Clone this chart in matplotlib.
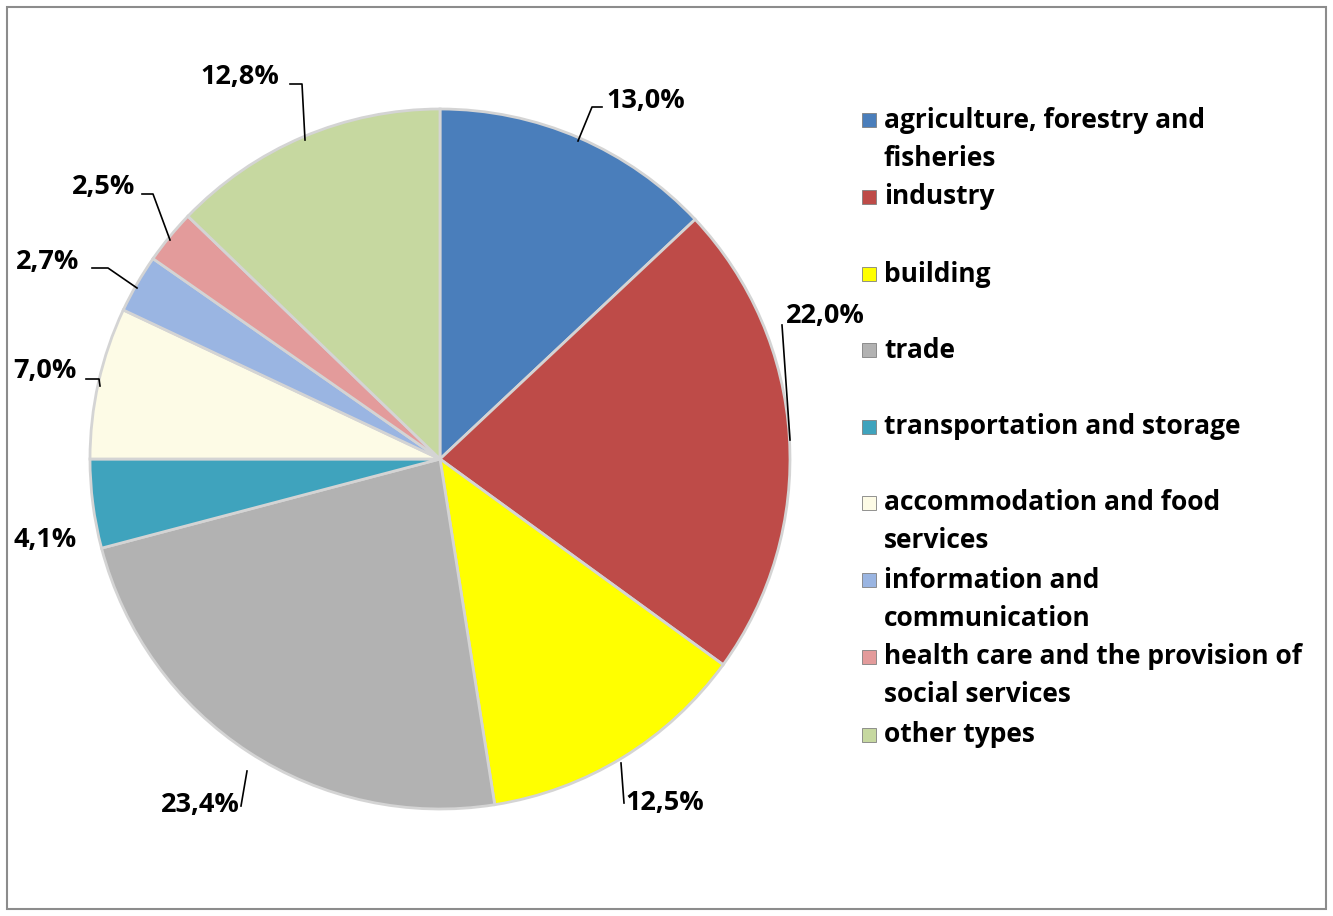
import matplotlib.pyplot as plt
from matplotlib.patches import Rectangle

plt.rcParams['font.family'] = ['Open Sans', 'DejaVu Sans']

# sectors, clockwise from 12 o'clock
sectors = ['agriculture, forestry and\nfisheries', 'industry', 'building', 'trade',
           'transportation and storage', 'accommodation and food\nservices',
           'information and\ncommunication',
           'health care and the provision of\nsocial services', 'other types']
shares = [13.0, 22.0, 12.5, 23.4, 4.1, 7.0, 2.7, 2.5, 12.8]
colors = ['#4a7ebb', '#be4b48', '#ffff00', '#b2b2b2', '#3fa3bd',
          '#fdfbe6', '#9ab5e2', '#e39b9b', '#c6d8a0']

# label text positions and leader-line points (pixels, y measured from top)
label_xy = [(646, 101), (825, 316), (665, 803), (200, 805), (45, 540),
            (45, 371), (48, 262), (104, 187), (240, 77)]
leaders = [[(602, 107), (592, 107), (578, 141)],
           [(782, 325), (790, 440)],
           [(624, 803), (621, 763)],
           [(241, 806), (247, 771)],
           [],
           [(86, 379), (99, 379), (100, 386)],
           [(92, 268), (108, 268), (137, 288)],
           [(142, 194), (153, 194), (170, 240)],
           [(290, 84), (302, 84), (305, 140)]]

# legend rows (pixel y of each first line)
legend_y = [120, 197, 274, 350, 427, 503, 580, 657, 735]

W, H = 1333, 916
fig = plt.figure(figsize=(W / 100, H / 100), dpi=100)
ax = fig.add_axes([0, 0, 1, 1])

cx, cy, r = 440, H - 459, 350
ax.pie(shares, colors=colors, startangle=90, counterclock=False,
       center=(cx, cy), radius=r, frame=True,
       wedgeprops=dict(edgecolor='#d4d4d4', linewidth=2.0))
ax.set_xlim(0, W)
ax.set_ylim(0, H)
ax.set_aspect('equal')
ax.axis('off')

for val, (tx, ty), pts in zip(shares, label_xy, leaders):
    ax.text(tx, H - ty, f'{val:.1f}%'.replace('.', ','), ha='center', va='center',
            fontsize=19.5, fontweight='bold', color='black')
    if pts:
        ax.plot([p[0] for p in pts], [H - p[1] for p in pts], color='black', lw=1.2)

for name, col, ly in zip(sectors, colors, legend_y):
    ax.add_patch(Rectangle((862, H - ly - 7), 14, 14, facecolor=col,
                           edgecolor='#808080', lw=0.6))
    for i, line in enumerate(name.split('\n')):
        ax.text(884, H - ly - i * 38, line, ha='left', va='center', fontsize=19,
                fontweight='bold', color='black')

ax.add_patch(Rectangle((7, 7), W - 14, H - 14, fill=False, edgecolor='#8c8c8c', lw=1.5))

fig.savefig('out.png', dpi=100)
